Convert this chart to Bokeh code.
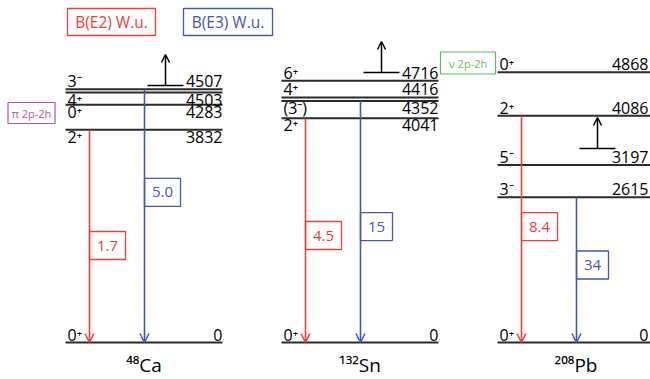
from bokeh.plotting import figure
from bokeh.models import Range1d, ColumnDataSource, Arrow, OpenHead
from bokeh.core.properties import value
from bokeh.embed import file_html
from bokeh.resources import INLINE

# ---------------- data ----------------
nucleus_labels = ["⁴⁸Ca", "¹³²Sn", "²⁰⁸Pb"]
ca_spins = ["0⁺", "2⁺", "0⁺", "4⁺", "3⁻"]
ca_energies = [0, 3832, 4283, 4503, 4507]
sn_spins = ["0⁺", "2⁺", "(3⁻)", "4⁺", "6⁺"]
sn_energies = [0, 4041, 4352, 4416, 4716]
pb_spins = ["0⁺", "3⁻", "5⁻", "2⁺", "0⁺"]
pb_energies = [0, 2615, 3197, 4086, 4868]
be2_values = ["1.7", "4.5", "8.4"]
be2_initial = [3832, 4041, 4086]
be3_values = ["5.0", "15", "34"]
be3_initial = [4507, 4352, 2615]
legend_texts = ["B(E2) W.u.", "B(E3) W.u."]
config_texts = ["π 2p-2h", "ν 2p-2h"]

# ---------------- layout / style ----------------
W, H = 650, 379
K = 0.0555          # px per keV
Y0 = 342            # screen y of 0 keV
def ey(sy):         # screen y -> energy coordinate
    return (Y0 - sy) / K
PX = 1.0 / K        # one pixel in keV

col_left = [65, 281, 497]
col_w = 157
red = "#ee4035"
blue = "#4557b3"
dark = "#2b2b2b"
FONT = value("Open Sans")

label_side = [
    ["above", "below", "below", "below", "above"],
    ["above", "below", "below", "above", "above"],
    ["above", "above", "above", "above", "above"],
]
nudge_px = [[0, 0, 0, 0, -3], [0, 0, 0, 0, 0], [0, 0, 0, 0, 0]]
be2_box_frac = [0.456, 0.477, 0.511]
be3_box_frac = [0.60, 0.48, 0.534]
up_arrow_base = [ey(85), ey(72), ey(148)]

p = figure(width=W, height=H, output_backend="svg", toolbar_location=None,
           x_range=Range1d(0, W), y_range=Range1d(ey(H), ey(0)),
           min_border=0)
p.axis.visible = False
p.grid.visible = False
p.outline_line_color = None
p.background_fill_color = "white"

spins_all = [ca_spins, sn_spins, pb_spins]
en_all = [ca_energies, sn_energies, pb_energies]

disp_y = []
lx0, lx1, ly = [], [], []
sx, sy, stext = [], [], []
ex, eyy, etext = [], [], []
for i in range(3):
    ys = []
    for j, (s, e) in enumerate(zip(spins_all[i], en_all[i])):
        y = e - nudge_px[i][j] * PX
        ys.append(y)
        lx0.append(col_left[i]); lx1.append(col_left[i] + col_w); ly.append(y)
        ty = y + 8 * PX if label_side[i][j] == "above" else y - 7 * PX
        sx.append(col_left[i] + 2); sy.append(ty); stext.append(s)
        ex.append(min(col_left[i] + col_w, W - 2)); eyy.append(ty); etext.append(str(e))
    disp_y.append(ys)

p.segment(x0=lx0, y0=ly, x1=lx1, y1=ly, line_color=dark, line_width=2)
p.text(x=sx, y=sy, text=stext, text_font=FONT, text_font_size="16px",
       text_color="black", text_baseline="middle", text_align="left")
p.text(x=ex, y=eyy, text=etext, text_font=FONT, text_font_size="16px",
       text_color="black", text_baseline="middle", text_align="right")

# transitions
def y_of(i, e):
    return disp_y[i][en_all[i].index(e)]

for vals, inits, fracs, color, off in [
        (be2_values, be2_initial, be2_box_frac, red, 24),
        (be3_values, be3_initial, be3_box_frac, blue, 79)]:
    xs = [col_left[i] + off for i in range(3)]
    ys0 = [y_of(i, inits[i]) for i in range(3)]
    src = ColumnDataSource(dict(x=xs, y0=ys0, y1=[0, 0, 0]))
    p.add_layout(Arrow(end=OpenHead(size=9, line_color=color, line_width=1.5),
                       x_start="x", y_start="y0", x_end="x", y_end="y1",
                       line_color=color, line_width=1.6, source=src))
    bw = [36 if len(v) > 2 else 32 for v in vals]
    by = [inits[i] * fracs[i] for i in range(3)]
    p.rect(x=[xs[i] + bw[i] / 2 for i in range(3)], y=by, width=bw, height=28,
           height_units="screen", fill_color="white", line_color=color, line_width=1.3)
    p.text(x=[xs[i] + bw[i] / 2 for i in range(3)], y=by, text=vals, text_font=FONT,
           text_font_size="15px", text_color=color, text_align="center",
           text_baseline="middle")

# continuation arrows
ux = [col_left[i] + 100 for i in range(3)]
p.segment(x0=[col_left[i] + 82 for i in range(3)], y0=up_arrow_base,
          x1=[col_left[i] + 118 for i in range(3)], y1=up_arrow_base,
          line_color="black", line_width=1.5)
usrc = ColumnDataSource(dict(x=ux, y0=up_arrow_base, y1=[b + 31 * PX for b in up_arrow_base]))
p.add_layout(Arrow(end=OpenHead(size=8, line_color="black", line_width=1.5),
                   x_start="x", y_start="y0", x_end="x", y_end="y1",
                   line_color="black", line_width=1.5, source=usrc))

# nucleus names
p.text(x=[c + col_w / 2 for c in col_left], y=[ey(364)] * 3, text=nucleus_labels,
       text_font=FONT, text_font_size="19px", text_color="black",
       text_align="center", text_baseline="middle")

# legend boxes
p.rect(x=[111, 227.5], y=[ey(21.5)] * 2, width=[88, 89], height=27, height_units="screen",
       fill_color="white", line_color=[red, blue], line_width=1.3)
p.text(x=[111, 227.5], y=[ey(21.5)] * 2, text=legend_texts, text_font=FONT,
       text_font_size="15.5px", text_color=[red, blue], text_align="center",
       text_baseline="middle")

# configuration boxes
purple = "#b153b1"
green = "#5cc05c"
p.rect(x=[31, 467.5], y=[ey(112.5), ey(62.5)], width=[47, 55], height=[21, 22],
       height_units="screen", fill_color="white", line_color=[purple, green], line_width=1.2)
p.text(x=[31, 467.5], y=[ey(112.5), ey(62.5)], text=config_texts, text_font=FONT,
       text_font_size="11px", text_color=[purple, green], text_align="center",
       text_baseline="middle")

open("out.html", "w").write(file_html(p, INLINE))
